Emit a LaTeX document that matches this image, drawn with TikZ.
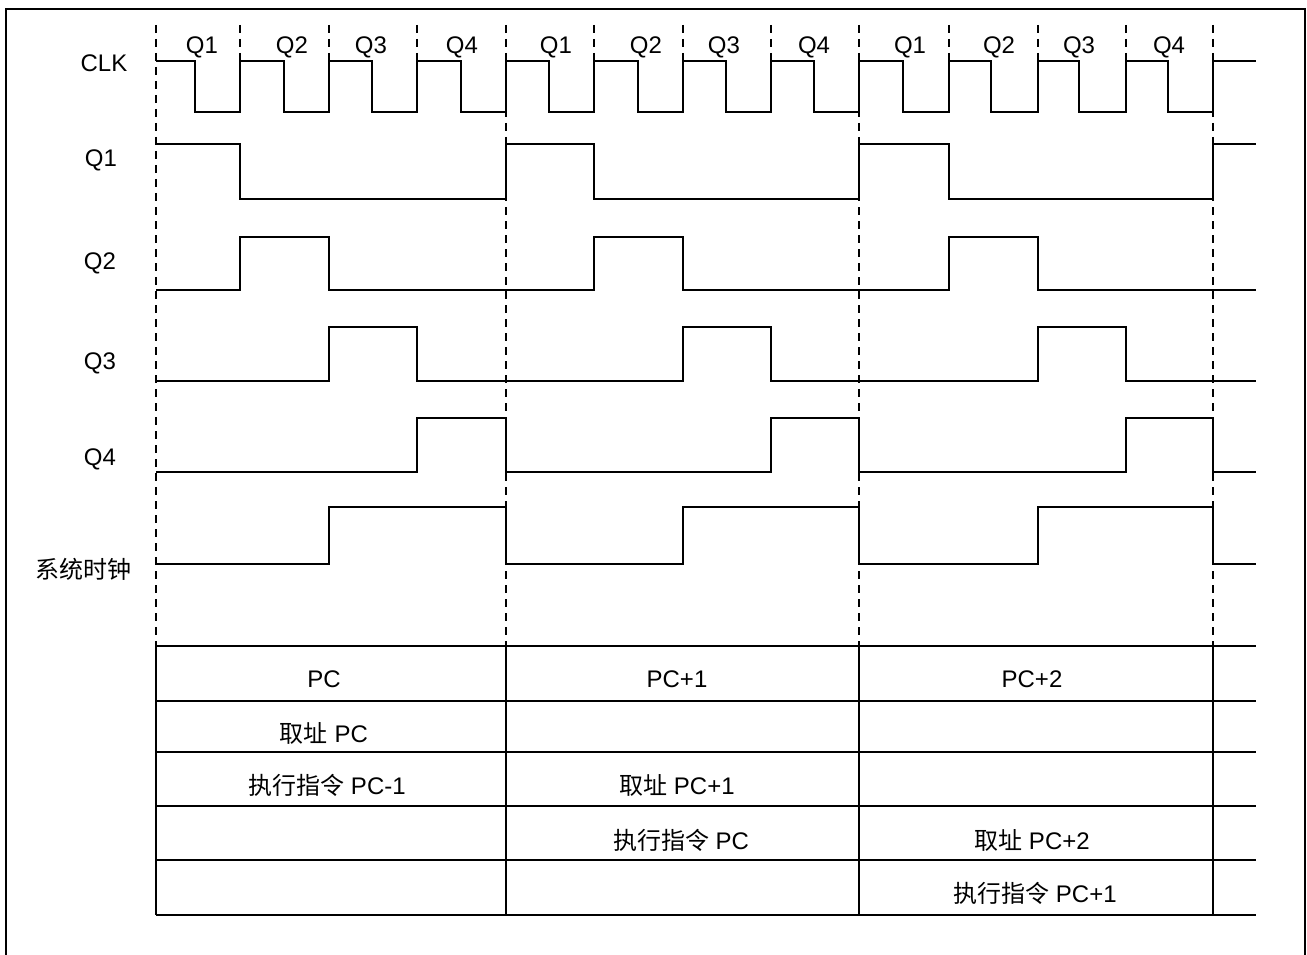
\documentclass[tikz,border=0pt]{standalone}
\usepackage{fontspec}
\setmainfont{Liberation Sans}
\newfontfamily\cjk{Noto Sans CJK SC}
\usepackage{tikz}
\tikzset{
  sig/.style={line width=1.6pt, black, line join=miter},
  divline/.style={line width=1.4pt, dash pattern=on 8pt off 6pt, black},
  cell/.style={line width=1.8pt, black},
  lbl/.style={font=\fontsize{24}{28}\selectfont, inner sep=0pt},
}

\begin{document}
\begin{tikzpicture}[x=1pt, y=-1pt]
      \useasboundingbox (0,0) rectangle (1307,955);
      % frame
      \draw[line width=1.6pt] (6,955) -- (6,9) -- (1305,9) -- (1305,955);

      % row labels
      \node[lbl] (lclk) at (104,63) {CLK};
      \node[lbl] (lq1) at (101,160) {Q1};
      \node[lbl] (lq2) at (100,263) {Q2};
      \node[lbl] (lq3) at (100,363) {Q3};
      \node[lbl] (lq4) at (100,459) {Q4};
      \node[lbl] (lsys) at (83,569) {\cjk 系统时钟};

      % dashed period lines
      \draw[divline] (156,25) -- (156,646);
      \draw[divline] (506,25) -- (506,646);
      \draw[divline] (859,25) -- (859,646);
      \draw[divline] (1213,25) -- (1213,646);
      % short quarter marks above CLK
      \draw[divline] (240,25) -- (240,61);
      \draw[divline] (329,25) -- (329,61);
      \draw[divline] (417,25) -- (417,61);
      \draw[divline] (594,25) -- (594,61);
      \draw[divline] (683,25) -- (683,61);
      \draw[divline] (771,25) -- (771,61);
      \draw[divline] (949,25) -- (949,61);
      \draw[divline] (1038,25) -- (1038,61);
      \draw[divline] (1126,25) -- (1126,61);

      % quarter names
      \node[lbl] (a1) at (202,47) {Q1};
      \node[lbl] (a2) at (292,47) {Q2};
      \node[lbl] (a3) at (371,47) {Q3};
      \node[lbl] (a4) at (462,47) {Q4};
      \node[lbl] (b1) at (556,47) {Q1};
      \node[lbl] (b2) at (646,47) {Q2};
      \node[lbl] (b3) at (724,47) {Q3};
      \node[lbl] (b4) at (814,47) {Q4};
      \node[lbl] (c1) at (910,47) {Q1};
      \node[lbl] (c2) at (999,47) {Q2};
      \node[lbl] (c3) at (1079,47) {Q3};
      \node[lbl] (c4) at (1169,47) {Q4};

      % CLK
      \draw[sig] (156,61) -| (195,112) -| (240,61) -| (284,112) -| (329,61)
        -| (372,112) -| (417,61) -| (461,112) -| (506,61) -| (549,112)
        -| (594,61) -| (638,112) -| (683,61) -| (726,112) -| (771,61)
        -| (814,112) -| (859,61) -| (903,112) -| (949,61) -| (991,112)
        -| (1038,61) -| (1079,112) -| (1126,61) -| (1168,112) -| (1213,61)
        -- (1256,61);
      % Q1 .. Q4
      \draw[sig] (156,144) -| (240,199) -| (506,144) -| (594,199) -| (859,144)
        -| (949,199) -| (1213,144) -- (1256,144);
      \draw[sig] (156,290) -| (240,237) -| (329,290) -| (594,237) -| (683,290)
        -| (949,237) -| (1038,290) -- (1256,290);
      \draw[sig] (156,381) -| (329,327) -| (417,381) -| (683,327) -| (771,381)
        -| (1038,327) -| (1126,381) -- (1256,381);
      \draw[sig] (156,472) -| (417,418) -| (506,472) -| (771,418) -| (859,472)
        -| (1126,418) -| (1213,472) -- (1256,472);
      % system clock
      \draw[sig] (156,564) -| (329,507) -| (506,564) -| (683,507) -| (859,564)
        -| (1038,507) -| (1213,564) -- (1256,564);

      % table
      \draw[cell] (156,646) -- (1256,646);
      \draw[cell] (156,701) -- (1256,701);
      \draw[cell] (156,752) -- (1256,752);
      \draw[cell] (156,806) -- (1256,806);
      \draw[cell] (156,860) -- (1256,860);
      \draw[cell] (156,915) -- (1256,915);
      \draw[cell] (156,646) -- (156,915);
      \draw[cell] (506,646) -- (506,915);
      \draw[cell] (859,646) -- (859,915);
      \draw[cell] (1213,646) -- (1213,915);

      \node[lbl] (pc0) at (324,679) {PC};
      \node[lbl] (pc1) at (677,679) {PC+1};
      \node[lbl] (pc2) at (1032,679) {PC+2};
      \node[lbl] (f0) at (324,733) {{\cjk 取址} PC};
      \node[lbl] (e0) at (327,785) {{\cjk 执行指令} PC-1};
      \node[lbl] (f1) at (677,785) {{\cjk 取址} PC+1};
      \node[lbl] (e1) at (681,840) {{\cjk 执行指令} PC};
      \node[lbl] (f2) at (1032,840) {{\cjk 取址} PC+2};
      \node[lbl] (e2) at (1035,893) {{\cjk 执行指令} PC+1};

    \end{tikzpicture}
\end{document}
